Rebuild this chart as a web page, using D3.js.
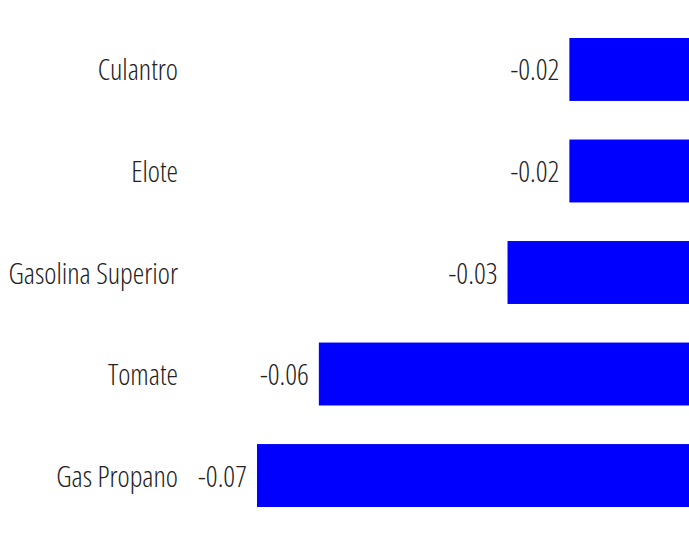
<!DOCTYPE html>
<html><head><meta charset="utf-8">
<script src="https://cdn.jsdelivr.net/npm/d3@7"></script>
<style>
html,body{margin:0;padding:0;background:#fff;}
text{font-family:"Open Sans",sans-serif;font-weight:300;font-stretch:75%;fill:#222;}
</style></head>
<body><svg id="c" width="689" height="533"></svg>
<script>
const categories = ["Culantro","Elote","Gasolina Superior","Tomate","Gas Propano"];
const values = [-0.0195,-0.0195,-0.0295,-0.0600,-0.0700];
const valueLabels = ["-0.02","-0.02","-0.03","-0.06","-0.07"];

const svg = d3.select("#c");
const x = d3.scaleLinear().domain([-0.07, 0]).range([257, 690]);
const y = d3.scaleBand().domain(categories).range([38, 507]).paddingInner(0.38).paddingOuter(0);

svg.selectAll("rect.bar").data(categories).join("rect")
  .attr("class","bar")
  .attr("x",(d,i)=>x(values[i]))
  .attr("y",d=>y(d))
  .attr("width",(d,i)=>x(0)-x(values[i]))
  .attr("height",y.bandwidth())
  .attr("fill","#0000ff");

svg.selectAll("text.cat").data(categories).join("text")
  .attr("class","cat")
  .attr("x",178)
  .attr("y",d=>y(d)+y.bandwidth()/2)
  .attr("dy","0.38em")
  .attr("text-anchor","end")
  .attr("font-size",29)
  .text(d=>d);

svg.selectAll("text.val").data(categories).join("text")
  .attr("class","val")
  .attr("x",(d,i)=>x(values[i])-10)
  .attr("y",d=>y(d)+y.bandwidth()/2)
  .attr("dy","0.38em")
  .attr("text-anchor","end")
  .attr("font-size",29)
  .text((d,i)=>valueLabels[i]);
</script></body></html>
